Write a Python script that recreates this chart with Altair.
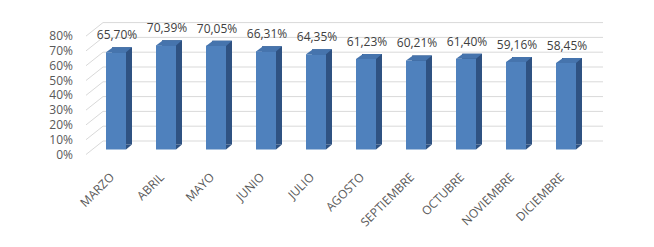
import altair as alt
import pandas as pd

months = ["MARZO", "ABRIL", "MAYO", "JUNIO", "JULIO", "AGOSTO",
          "SEPTIEMBRE", "OCTUBRE", "NOVIEMBRE", "DICIEMBRE"]
values = [65.70, 70.39, 70.05, 66.31, 64.35, 61.23, 60.21, 61.40, 59.16, 58.45]
ticks = [0, 10, 20, 30, 40, 50, 60, 70, 80]
tick_labels = ["0%", "10%", "20%", "30%", "40%", "50%", "60%", "70%", "80%"]

FRONT = "#4F81BD"
SIDE = "#2F5282"
TOP = "#4674AD"
GRID = "#D9D9D9"
FONT = "Open Sans"

df = pd.DataFrame({
    "mes": months,
    "valor": values,
    "etiqueta": [f"{v:.2f}%".replace(".", ",") for v in values],
})
gdf = pd.DataFrame({"t": ticks, "lab": tick_labels})

yaxis = alt.Axis(title=None, values=ticks, labels=False, grid=False,
                 ticks=False, domain=False)
yscale = alt.Scale(domain=[0, 100])

x = alt.X("mes:N", sort=months,
          scale=alt.Scale(paddingInner=0, paddingOuter=0),
          axis=alt.Axis(title=None, labelAngle=-45, labelAlign="right",
                        labelBaseline="alphabetic", labelPadding=28,
                        labelOffset=-1, ticks=False, domain=False, grid=False,
                        labelOverlap=False, labelFont=FONT, labelFontSize=12,
                        labelColor="#595959"))
y = alt.Y("valor:Q", scale=yscale, axis=yaxis)
yt = alt.Y("t:Q", scale=yscale, axis=yaxis)

back = alt.Chart(gdf).mark_rule(color=GRID, strokeWidth=1, yOffset=-8.5).encode(
    y=yt, x=alt.value(12), x2=alt.value(512))
side_wall = alt.Chart(gdf).mark_rule(color=GRID, strokeWidth=1, yOffset=5,
                                     y2Offset=-8.5).encode(
    y=yt, y2="t:Q", x=alt.value(-5), x2=alt.value(12))
ylabels = alt.Chart(gdf).mark_text(align="right", baseline="middle",
                                   font=FONT, fontSize=12, color="#595959",
                                   dy=5).encode(
    y=yt, x=alt.value(-18), text="lab:N")

base = alt.Chart(df)
dark = base.mark_bar(size=20, xOffset=6, yOffset=-5, y2Offset=-5,
                     color=SIDE).encode(x=x, y=y)
front = base.mark_bar(size=20, color=FRONT).encode(x=x, y=y)
top = base.mark_point(shape="M -1 0.2 L 0.5385 0.2 L 1 -0.1923 L -0.4615 -0.1923 Z",
                      size=676, filled=True, opacity=1, strokeWidth=0,
                      color=TOP, xOffset=3, yOffset=-2.5).encode(x=x, y=y)
bottom = base.mark_point(shape="M 0.5385 0.1923 L 0.5385 -0.1923 L 1 -0.1923 Z",
                         size=676, filled=True, opacity=1, strokeWidth=0,
                         color=SIDE, xOffset=3, yOffset=-2.5).encode(
    x=x, y=alt.datum(0))
labels = base.mark_text(dy=-13, dx=1, baseline="alphabetic", fontSize=12,
                        font=FONT, color="#404040").encode(
    x=x, y=y, text="etiqueta:N")

chart = alt.layer(back, side_wall, ylabels, dark, front, top, bottom,
                  labels).properties(
    width=500, height=148, autosize="none",
    padding={"left": 91, "top": 1.5, "right": 63, "bottom": 97.5},
    background="white",
).configure_view(strokeWidth=0)

chart.save("out.html", embed_options={"renderer": "svg", "actions": False})
